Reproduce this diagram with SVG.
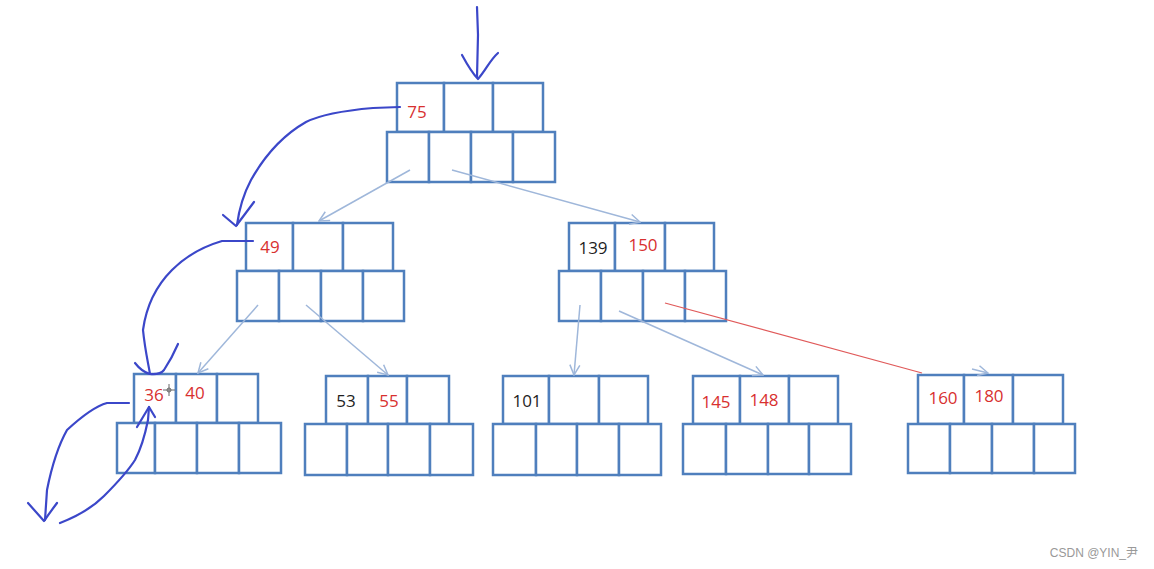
<svg xmlns="http://www.w3.org/2000/svg" width="1154" height="569" viewBox="0 0 1154 569">
<defs>
<style>
.c{fill:#fff;stroke:#4f7fbd;stroke-width:2.5}
.t{font-family:"Open Sans","Liberation Sans",sans-serif;font-size:17px;text-anchor:middle}
.r{fill:#d8302f}
.k{fill:#1e1e1e}
.e{fill:none;stroke:#9fb7da;stroke-width:1.5}
.h{fill:none;stroke:#3b47c9;stroke-width:2.2;stroke-linecap:round;stroke-linejoin:round}
</style>
<marker id="ar" viewBox="0 0 12 12" refX="11" refY="6" markerWidth="12" markerHeight="12" markerUnits="userSpaceOnUse" orient="auto">
<path d="M1,1 L11,6 L1,11" fill="none" stroke="#9fb7da" stroke-width="1.5"/>
</marker>
</defs>
<rect width="1154" height="569" fill="#fff"/>

<g id="root">
<rect class="c" x="397" y="83" width="47" height="49"/><rect class="c" x="444" y="83" width="49" height="49"/><rect class="c" x="493" y="83" width="50" height="49"/>
<rect class="c" x="387" y="132" width="42" height="50"/><rect class="c" x="429" y="132" width="42" height="50"/><rect class="c" x="471" y="132" width="42" height="50"/><rect class="c" x="513" y="132" width="42" height="50"/>
<text class="t r" x="417" y="118">75</text>
</g>

<g id="n49">
<rect class="c" x="246" y="223" width="47" height="48"/><rect class="c" x="293" y="223" width="50" height="48"/><rect class="c" x="343" y="223" width="50" height="48"/>
<rect class="c" x="237" y="271" width="42" height="50"/><rect class="c" x="279" y="271" width="42" height="50"/><rect class="c" x="321" y="271" width="42" height="50"/><rect class="c" x="363" y="271" width="41" height="50"/>
<text class="t r" x="270" y="253">49</text>
</g>

<g id="n139">
<rect class="c" x="569" y="223" width="46" height="48"/><rect class="c" x="615" y="223" width="50" height="48"/><rect class="c" x="665" y="223" width="49" height="48"/>
<rect class="c" x="559" y="271" width="42" height="50"/><rect class="c" x="601" y="271" width="42" height="50"/><rect class="c" x="643" y="271" width="42" height="50"/><rect class="c" x="685" y="271" width="41" height="50"/>
<text class="t k" x="593" y="254">139</text>
<text class="t r" x="643" y="251">150</text>
</g>

<g id="n36">
<rect class="c" x="134" y="374" width="42" height="49"/><rect class="c" x="176" y="374" width="41" height="49"/><rect class="c" x="217" y="374" width="41" height="49"/>
<rect class="c" x="117" y="423" width="38" height="50"/><rect class="c" x="155" y="423" width="42" height="50"/><rect class="c" x="197" y="423" width="42" height="50"/><rect class="c" x="239" y="423" width="42" height="50"/>
<text class="t r" x="154" y="401">36</text>
<text class="t r" x="195" y="399">40</text>
</g>

<g id="n53">
<rect class="c" x="326" y="376" width="42" height="48"/><rect class="c" x="368" y="376" width="39" height="48"/><rect class="c" x="407" y="376" width="42" height="48"/>
<rect class="c" x="305" y="424" width="42" height="51"/><rect class="c" x="347" y="424" width="41" height="51"/><rect class="c" x="388" y="424" width="42" height="51"/><rect class="c" x="430" y="424" width="43" height="51"/>
<text class="t k" x="346" y="407">53</text>
<text class="t r" x="389" y="407">55</text>
</g>

<g id="n101">
<rect class="c" x="503" y="376" width="46" height="48"/><rect class="c" x="549" y="376" width="50" height="48"/><rect class="c" x="599" y="376" width="49" height="48"/>
<rect class="c" x="493" y="424" width="43" height="51"/><rect class="c" x="536" y="424" width="41" height="51"/><rect class="c" x="577" y="424" width="42" height="51"/><rect class="c" x="619" y="424" width="42" height="51"/>
<text class="t k" x="527" y="407">101</text>
</g>

<g id="n145">
<rect class="c" x="693" y="376" width="47" height="48"/><rect class="c" x="740" y="376" width="49" height="48"/><rect class="c" x="789" y="376" width="49" height="48"/>
<rect class="c" x="683" y="424" width="43" height="50"/><rect class="c" x="726" y="424" width="42" height="50"/><rect class="c" x="768" y="424" width="41" height="50"/><rect class="c" x="809" y="424" width="42" height="50"/>
<text class="t r" x="716" y="408">145</text>
<text class="t r" x="764" y="406">148</text>
</g>

<g id="n160">
<rect class="c" x="918" y="375" width="46" height="49"/><rect class="c" x="964" y="375" width="49" height="49"/><rect class="c" x="1013" y="375" width="50" height="49"/>
<rect class="c" x="908" y="424" width="42" height="49"/><rect class="c" x="950" y="424" width="42" height="49"/><rect class="c" x="992" y="424" width="42" height="49"/><rect class="c" x="1034" y="424" width="41" height="49"/>
<text class="t r" x="943" y="404">160</text>
<text class="t r" x="989" y="402">180</text>
</g>

<g id="connectors">
<line class="e" x1="410" y1="170" x2="319" y2="221" marker-end="url(#ar)"/>
<line class="e" x1="452" y1="170" x2="640" y2="222" marker-end="url(#ar)"/>
<line class="e" x1="258" y1="305" x2="198" y2="373" marker-end="url(#ar)"/>
<line class="e" x1="306" y1="305" x2="388" y2="375" marker-end="url(#ar)"/>
<line class="e" x1="580" y1="305" x2="574" y2="375" marker-end="url(#ar)"/>
<line class="e" x1="619" y1="311" x2="763" y2="375" marker-end="url(#ar)"/>
<line x1="665" y1="303" x2="922" y2="373" stroke="#e05a5a" stroke-width="1.2"/>
<line class="e" x1="972" y1="369" x2="988" y2="373" marker-end="url(#ar)"/>
</g>

<g id="handdrawn">
<path class="h" d="M477,7 L478,35 L477,77"/>
<path class="h" d="M462,55 C468,66 472,73 478,79 C486,70 490,60 498,53"/>
<path class="h" d="M400,107 L373,108 C350,110 322,114 306,122 C285,134 265,155 251,180 C243,195 239,210 237,225"/>
<path class="h" d="M223,215 L236,226 L254,202"/>
<path class="h" d="M253,241 L222,241 C205,246 186,256 172,270 C156,286 146,308 143,330 C145,350 148,362 150,374"/>
<path class="h" d="M135,363 Q142,372 150,374 Q160,375 164,370 Q172,358 178,344"/>
<path class="h" d="M129,403 L107,403 C96,406 80,418 67,430 C58,446 51,470 47,490 L45,520"/>
<path class="h" d="M28,503 Q36,512 44,521 Q51,511 57,503"/>
<path class="h" d="M60,523 C78,516 94,506 104,496 C117,483 128,471 135,460 C142,447 146,430 148,420 L149,407"/>
<path class="h" d="M137,427 L149,407 L155,417"/>
</g>

<g id="cursor" stroke="#666" stroke-width="1">
<line x1="169" y1="384" x2="169" y2="396"/>
<line x1="163" y1="390" x2="175" y2="390"/>
<circle cx="169" cy="390" r="2" fill="none"/>
</g>

<text x="1138" y="557" font-family="'Liberation Sans','Noto Sans CJK SC',sans-serif" font-size="12" fill="#999" text-anchor="end">CSDN @YIN_尹</text>
</svg>
